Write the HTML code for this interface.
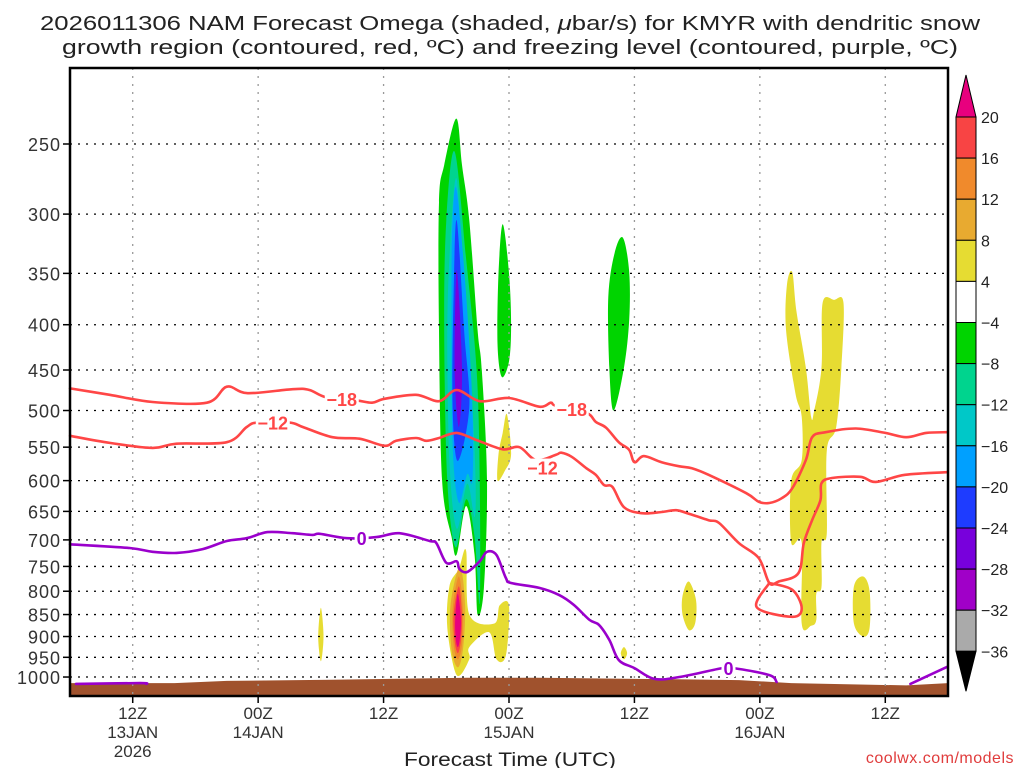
<!DOCTYPE html>
<html><head><meta charset="utf-8"><style>
html,body{margin:0;padding:0;background:#fff;}
svg{display:block;font-family:"Liberation Sans",sans-serif;}
</style></head><body>
<svg id="chart" width="1024" height="768" viewBox="0 0 1024 768" xmlns="http://www.w3.org/2000/svg">
<rect width="1024" height="768" fill="#fff"/>
<text x="510" y="30" text-anchor="middle" font-size="20" fill="#222" textLength="940" lengthAdjust="spacingAndGlyphs">2026011306 NAM Forecast Omega (shaded, <tspan font-style="italic">μ</tspan>bar/s) for KMYR with dendritic snow</text>
<text x="510" y="54" text-anchor="middle" font-size="20" fill="#222" textLength="896" lengthAdjust="spacingAndGlyphs">growth region (contoured, red, ºC) and freezing level (contoured, purple, ºC)</text>
<g id="shade"></g>
<g id="terrain"></g>
<g id="grid"></g>
<g id="contours"></g>
<g id="axes"></g>
<g id="colorbar"></g>
<rect x="70" y="68" width="878" height="628" fill="none" stroke="#000" stroke-width="2.5"/>
<text x="510" y="766" text-anchor="middle" font-size="19" fill="#222" textLength="212" lengthAdjust="spacingAndGlyphs">Forecast Time (UTC)</text>
<text x="1014" y="763" text-anchor="end" font-size="16" fill="#e03c3c" letter-spacing="0.5">coolwx.com/models</text>
</svg>
<script>
// ---- data ----
const pressureTicks = [250,300,350,400,450,500,550,600,650,700,750,800,850,900,950,1000];
const timeTicksHours = [6,18,30,42,54,66,78];
const timeTickLine1 = ["12Z","00Z","12Z","00Z","12Z","00Z","12Z"];
const timeTickLine2 = ["13JAN","14JAN","","15JAN","","16JAN",""];
const timeTickLine3 = ["2026","","","","","",""];
const colorLevels = ["20","16","12","8","4","\u22124","\u22128","\u221212","\u221216","\u221220","\u221224","\u221228","\u221232","\u221236"];
const colorFills = ["#f84444","#f08a2c","#e8aa30","#e6dc32","#ffffff","#00d400","#00d48e","#00c8c8","#00a0ff","#1e3cff","#7800dc","#a000c8","#aaaaaa"];
const terrainHours = [0,10,15,25,38,45,58,64,69,80,84];
const terrainPres = [1016,1016,1010,1007,1002,1002,1006,1008,1016,1022,1016];

const blobGreenMain = [[36.96,234],[37.5,264],[38.2,305],[39.0,406],[39.4,450],[39.9,600],[39.6,793],[39.0,850],[38.7,727],[37.9,641],[37.0,727],[36.5,694],[35.6,600],[35.3,406],[35.3,291],[35.8,264]];
const blobTealMain = [[36.8,255],[37.9,337],[38.9,450],[39.2,600],[39.2,825],[38.7,694],[37.9,630],[36.9,714],[36.1,600],[35.8,406],[36.0,305]];
const blobCyanMain = [[37.0,274],[37.7,370],[38.5,495],[38.8,600],[38.7,660],[38.0,605],[37.0,680],[36.3,570],[36.1,406],[36.4,321]];
const blobLtBlueMain = [[37.0,282],[37.9,370],[38.5,495],[38.5,600],[38.0,590],[37.2,635],[36.6,545],[36.5,370],[36.6,305]];
const blobBlueMain = [[37.0,305],[37.7,406],[38.2,495],[37.1,570],[36.6,495],[36.7,370]];
const blobVioletMain = [[37.0,347],[37.5,450],[37.2,522],[36.8,450]];
const blobGreen2 = [[41.4,308],[42.0,350],[42.2,400],[42.0,440],[41.3,458],[40.9,420],[41.0,350]];
const blobGreen3 = [[52.9,319],[53.5,349],[53.5,395],[53.0,447],[52.0,500],[51.6,447],[51.5,372],[52.1,332]];
const blobYellowA = [[41.8,505],[42.2,560],[41.6,585],[40.9,600],[41.0,560],[41.4,530]];
const blobYellowLow = [[37.9,720],[38.2,850],[40.6,870],[41.1,830],[42.0,830],[41.7,945],[40.8,955],[40.1,890],[38.2,925],[38.2,955],[37.0,995],[36.1,880],[36.3,790],[37.2,755]];
const blobGoldLow = [[37.3,750],[37.8,830],[37.6,930],[37.1,975],[36.5,930],[36.4,830]];
const blobOrangeLow = [[37.2,770],[37.6,840],[37.5,920],[37.1,955],[36.7,920],[36.6,840]];
const blobRedLow = [[37.2,790],[37.5,850],[37.4,910],[37.1,940],[36.8,910],[36.7,850]];
const blobMagentaLow = [[37.1,805],[37.4,860],[37.3,905],[37.1,925],[36.9,905],[36.85,860]];
const blobYellowThin = [[24.0,835],[24.25,900],[24.0,960],[23.75,900]];
const blobYellowDot = [[53.0,925],[53.3,940],[53.0,955],[52.7,940]];
const blobYellowB = [[59.2,780],[59.9,820],[59.8,870],[59.2,885],[58.6,850],[58.6,810]];
const blobYellowC = [[75.9,770],[76.5,800],[76.5,880],[75.9,900],[75.0,870],[75.0,790]];
const blobYellowBig = [[69.1,349],[69.5,386],[70.4,447],[70.9,508],[71.2,500],[71.9,447],[72.0,378],[73.1,375],[74.0,378],[73.8,447],[73.3,522],[72.4,555],[72.4,688],[71.9,704],[71.9,791],[71.4,805],[71.4,862],[70.9,875],[70.0,870],[70.0,705],[69.0,705],[69.0,600],[70.0,569],[70.0,508],[69.4,478],[68.5,405],[68.6,360]];

const contourMinus18 = [[0,472],[3.8,480],[7.9,489],[13.1,490],[15.0,470],[17.0,478],[21.3,473],[22.9,474],[24.5,483],[27.4,487],[28.9,490],[30.1,485],[33.1,480],[35.3,488],[37.0,474],[39.2,488],[42.0,484],[44.9,495],[46.0,490],[46.5,494],[49.4,503],[50.3,515],[51.3,523],[52.5,543],[53.5,554],[54.0,572],[54.9,563],[56.6,572],[58.3,578],[59.5,581],[61.1,591],[64.7,620],[65.9,634],[66.9,636],[68.1,628],[69.1,612],[70.4,569],[71.0,536],[72.3,529],[75.2,524],[78.0,530],[80.0,536],[81.9,530],[83.9,529]];
const contourMinus12 = [[0,534],[3.8,544],[7.9,551],[10.2,545],[15.0,543],[16.9,522],[17.9,516],[21.0,516],[22.3,522],[25.1,536],[27.7,538],[30.1,548],[31.2,541],[33.1,537],[34.1,541],[35.3,537],[37.0,530],[38.9,540],[41.4,553],[43.0,550],[44.6,569],[46.5,561],[47.0,558],[48.0,564],[49.4,581],[50.3,591],[51.1,607],[51.9,610],[53.0,643],[54.7,653],[56.6,651],[58.0,648],[59.2,654],[61.1,665],[62.1,670],[64.0,706],[65.9,734],[66.9,783],[67.8,780],[69.7,763],[70.2,706],[71.0,665],[71.8,631],[71.9,604],[72.9,596],[75.6,594],[77.1,602],[79.9,591],[83.9,587]];
const contourMinus12Loop = [[66.9,783],[65.7,834],[69.1,855],[70.0,836],[69.1,797],[66.9,783]];
const contourZero = [[0,708],[5.7,715],[7.9,722],[10.2,724],[12.7,717],[15.0,702],[16.9,697],[18.9,686],[21.3,688],[23.2,691],[23.9,689],[26.5,697],[29.3,695],[31.5,688],[34.4,702],[35.05,706],[36.0,743],[37.0,740],[37.25,755],[38.0,761],[39.2,740],[39.9,722],[40.8,728],[41.7,773],[42.2,783],[44.9,793],[46.8,808],[48.2,829],[49.7,862],[50.6,873],[51.6,908],[52.5,957],[54.0,977],[55.9,1005],[58.3,1000],[62.4,977],[63.5,977],[66.9,995],[67.6,1013]];
const contourZeroLeft = [[0.57,1018],[6.7,1016],[7.3,1018]];
const contourZeroRight = [[80.4,1018],[83.9,974]];
const labels18 = [[26.0,485],[48.0,498]];
const labels12 = [[19.4,516],[45.2,580]];
const labels0 = [[27.9,697],[63.0,977]];

const X0=70, X1=948, Y0=68, Y1=696;
function xs(h){ return X0 + h*(X1-X0)/84; }
function ys(p){ return 144 + 384.5*Math.log(p/250); }
const NS="http://www.w3.org/2000/svg";
function mk(tag, attrs, parent){ const e=document.createElementNS(NS,tag); for(const k in attrs) e.setAttribute(k,attrs[k]); parent.appendChild(e); return e; }

function smoothClosed(pts){
  const P = pts.map(d=>[xs(d[0]), ys(d[1])]); const n=P.length;
  let s = `M${P[0][0].toFixed(1)},${P[0][1].toFixed(1)}`;
  for(let i=0;i<n;i++){
    const p0=P[(i-1+n)%n], p1=P[i], p2=P[(i+1)%n], p3=P[(i+2)%n];
    const c1=[p1[0]+(p2[0]-p0[0])/6, p1[1]+(p2[1]-p0[1])/6];
    const c2=[p2[0]-(p3[0]-p1[0])/6, p2[1]-(p3[1]-p1[1])/6];
    s+=`C${c1[0].toFixed(1)},${c1[1].toFixed(1)} ${c2[0].toFixed(1)},${c2[1].toFixed(1)} ${p2[0].toFixed(1)},${p2[1].toFixed(1)}`;
  }
  return s+'Z';
}
function smoothOpen(pts){
  const P = pts.map(d=>[xs(d[0]), ys(d[1])]); const n=P.length;
  let s = `M${P[0][0].toFixed(1)},${P[0][1].toFixed(1)}`;
  for(let i=0;i<n-1;i++){
    const p0=P[Math.max(i-1,0)], p1=P[i], p2=P[i+1], p3=P[Math.min(i+2,n-1)];
    const c1=[p1[0]+(p2[0]-p0[0])/6, p1[1]+(p2[1]-p0[1])/6];
    const c2=[p2[0]-(p3[0]-p1[0])/6, p2[1]-(p3[1]-p1[1])/6];
    s+=`C${c1[0].toFixed(1)},${c1[1].toFixed(1)} ${c2[0].toFixed(1)},${c2[1].toFixed(1)} ${p2[0].toFixed(1)},${p2[1].toFixed(1)}`;
  }
  return s;
}

const shade=document.getElementById('shade');
const blobList = [
  [blobGreenMain,"#00d400","omega-blob-main-m4"],[blobTealMain,"#00d48e","omega-blob-main-m8"],
  [blobCyanMain,"#00c8c8","omega-blob-main-m12"],[blobLtBlueMain,"#00a0ff","omega-blob-main-m16"],
  [blobBlueMain,"#1e3cff","omega-blob-main-m20"],[blobVioletMain,"#7800dc","omega-blob-main-m24"],
  [blobGreen2,"#00d400","omega-blob-green-15jan"],[blobGreen3,"#00d400","omega-blob-green-15jan-12z"],
  [blobYellowA,"#e6dc32","omega-blob-yellow-midlevel"],[blobYellowLow,"#e6dc32","omega-blob-low-4"],
  [blobGoldLow,"#e8aa30","omega-blob-low-8"],[blobOrangeLow,"#f08a2c","omega-blob-low-12"],
  [blobRedLow,"#f84444","omega-blob-low-16"],[blobMagentaLow,"#e8007e","omega-blob-low-20"],
  [blobYellowThin,"#e6dc32","omega-blob-yellow-thin"],[blobYellowDot,"#e6dc32","omega-blob-yellow-dot"],
  [blobYellowB,"#e6dc32","omega-blob-yellow-b"],[blobYellowC,"#e6dc32","omega-blob-yellow-c"],
  [blobYellowBig,"#e6dc32","omega-blob-yellow-16jan"]
];
blobList.forEach(b=>{
  const e=mk('path',{d:smoothClosed(b[0]),fill:b[1]},shade);
  
  
});

(function(){
  let d=`M${xs(terrainHours[0])},${Y1}`;
  terrainHours.forEach((h,i)=>{ d+=`L${xs(h).toFixed(1)},${ys(terrainPres[i]).toFixed(1)}`; });
  d+=`L${xs(terrainHours[terrainHours.length-1])},${Y1}Z`;
  const e=mk('path',{d:d,fill:'#a0522d'},document.getElementById('terrain'));
  
  
})();

const grid=document.getElementById('grid'), axes=document.getElementById('axes');
pressureTicks.forEach(p=>{
  const y=ys(p);
  const g=mk('line',{x1:X0,x2:X1,y1:y,y2:y,stroke:'#000','stroke-width':1.3,'stroke-dasharray':'2 6'},grid);
  
  
  const t=mk('line',{x1:X0-7,x2:X0,y1:y,y2:y,stroke:'#000','stroke-width':1.5},axes);
  
  
  const l=mk('text',{x:X0-9,y:y+7,'text-anchor':'end','font-size':18,'letter-spacing':1,fill:'#333'},axes);
  l.textContent=String(p);
  
  
});
timeTicksHours.forEach((h,i)=>{
  const x=xs(h);
  const g=mk('line',{x1:x,x2:x,y1:Y0,y2:Y1,stroke:'#999','stroke-width':1.3,'stroke-dasharray':'2 6'},grid);
  
  
  const t=mk('line',{x1:x,x2:x,y1:Y1,y2:Y1+7,stroke:'#000','stroke-width':1.5},axes);
  
  
  [timeTickLine1[i],timeTickLine2[i],timeTickLine3[i]].forEach((s,j)=>{
    if(!s) return;
    const l=mk('text',{x:x,y:719+j*19,'text-anchor':'middle','font-size':17,fill:'#333'},axes);
    l.textContent=s;
    
    
  });
});

const cg=document.getElementById('contours');
function drawLine(pts,color,name){
  const e=mk('path',{d:smoothOpen(pts),fill:'none',stroke:color,'stroke-width':2.6,'stroke-linejoin':'round','stroke-linecap':'round'},cg);
  
  
}
drawLine(contourMinus18,'#ff4646','contour-minus18');
drawLine(contourMinus12,'#ff4646','contour-minus12');
drawLine(contourMinus12Loop,'#ff4646','contour-minus12-loop');
drawLine(contourZero,'#9a00cc','freezing-level-contour');
drawLine(contourZeroLeft,'#9a00cc','freezing-level-contour-left');
drawLine(contourZeroRight,'#9a00cc','freezing-level-contour-right');
function drawLabels(arr,text,color,name,w){
  arr.forEach((d,i)=>{
    const x=xs(d[0]), y=ys(d[1]);
    const r=mk('rect',{x:x-w/2,y:y-9,width:w,height:18,fill:'#fff'},cg);
    
    
    const t=mk('text',{x:x,y:y+7,'text-anchor':'middle','font-size':18,'font-weight':'bold',fill:color},cg);
    t.textContent=text;
    
    
  });
}
drawLabels(labels18,'\u221218','#ff4646','label-minus18',34);
drawLabels(labels12,'\u221212','#ff4646','label-minus12',34);
drawLabels(labels0,'0','#9a00cc','label-zero',14);

const cb=document.getElementById('colorbar');
const cbX=956, cbW=20, cbTop=117, cbStep=41.1;
let tri=mk('path',{d:`M${cbX},${cbTop} L${cbX+cbW/2},75 L${cbX+cbW},${cbTop} Z`,fill:'#e8007e',stroke:'#000','stroke-width':1},cb);


colorFills.forEach((c,i)=>{
  const r=mk('rect',{x:cbX,y:cbTop+i*cbStep,width:cbW,height:cbStep,fill:c,stroke:'#000','stroke-width':1},cb);
  
  
});
const cbBot=cbTop+colorFills.length*cbStep;
tri=mk('path',{d:`M${cbX},${cbBot} L${cbX+cbW/2},${cbBot+40} L${cbX+cbW},${cbBot} Z`,fill:'#000',stroke:'#000','stroke-width':1},cb);


colorLevels.forEach((s,i)=>{
  const t=mk('text',{x:981,y:cbTop+i*cbStep+6,'font-size':16,fill:'#222'},cb);
  t.textContent=s;
  
  
});
</script>
</body></html>
